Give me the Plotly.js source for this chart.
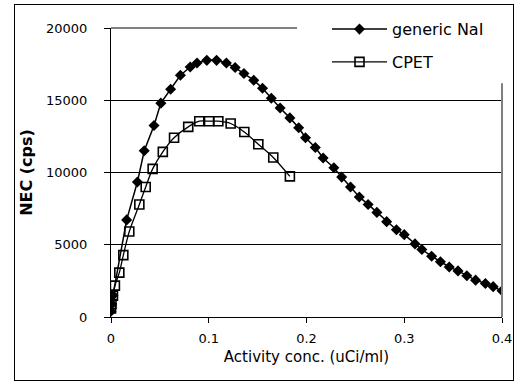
<!DOCTYPE html>
<html>
<head>
<meta charset="utf-8">
<script src="https://cdn.plot.ly/plotly-3.0.1.min.js"></script>
<style>
html,body{margin:0;padding:0;background:#fff;}
#wrap{position:relative;width:519px;height:384px;}
#chart{width:519px;height:384px;}
#frame{position:absolute;left:14px;top:4px;width:498px;height:375px;border:1px solid #000;pointer-events:none;}
</style>
</head>
<body>
<div id="wrap">
<div id="chart"></div>
<div id="frame"></div>
</div>
<script>
// generic NaI
var naiX = [0.000, 0.0008, 0.002, 0.016, 0.027, 0.034, 0.044, 0.051, 0.061, 0.071, 0.081, 0.088, 0.098, 0.108, 0.118, 0.127, 0.136, 0.146, 0.155, 0.164, 0.173, 0.183, 0.192, 0.199, 0.209, 0.217, 0.228, 0.236, 0.245, 0.254, 0.263, 0.272, 0.282, 0.292, 0.300, 0.311, 0.318, 0.328, 0.337, 0.346, 0.355, 0.364, 0.373, 0.383, 0.391, 0.400];
var naiY = [400, 900, 1500, 6720, 9340, 11500, 13250, 14800, 15760, 16730, 17300, 17580, 17760, 17760, 17580, 17260, 16850, 16390, 15830, 15140, 14460, 13780, 13100, 12410, 11730, 11000, 10330, 9680, 9000, 8310, 7790, 7240, 6600, 6040, 5700, 5060, 4670, 4210, 3830, 3460, 3190, 2850, 2550, 2320, 2100, 1820];
// CPET
var cpetX = [0.000, 0.0005, 0.002, 0.004, 0.0085, 0.0126, 0.0187, 0.029, 0.0355, 0.0426, 0.053, 0.0645, 0.079, 0.0903, 0.1003, 0.1098, 0.1224, 0.1364, 0.1507, 0.166, 0.183];
var cpetY = [600, 900, 1480, 2170, 3070, 4280, 5920, 7790, 9000, 10250, 11430, 12410, 13160, 13550, 13550, 13550, 13390, 12800, 11950, 11040, 9730];

var xTicks = [0, 0.1, 0.2, 0.3, 0.4];
var xTickText = ['0', '0.1', '0.2', '0.3', '0.4'];
var yTicks = [0, 5000, 10000, 15000, 20000];
var yTickText = ['0', '5000', '10000', '15000', '20000'];

var FONT = 'DejaVu Sans, Arial, sans-serif';

var traces = [
  {
    x: naiX, y: naiY, name: 'generic NaI', type: 'scatter', mode: 'lines+markers',
    line: {color: '#000', width: 1.5},
    marker: {symbol: 'diamond', size: 8.5, color: '#000', line: {width: 0}},
    legendgroup: 'a'
  },
  {
    x: cpetX, y: cpetY, name: 'CPET', type: 'scatter', mode: 'lines+markers',
    line: {color: '#000', width: 1.3, shape: 'spline', smoothing: 0.8},
    marker: {symbol: 'square-open', size: 9, color: '#000', line: {width: 1.6, color: '#000'}},
    legendgroup: 'b'
  }
];

var L = 111, R = 17, T = 24, B = 67;
var pw = 519 - L - R, ph = 384 - T - B;

var layout = {
  width: 519, height: 384,
  margin: {l: L, r: R, t: T, b: B, pad: 0},
  paper_bgcolor: 'rgba(0,0,0,0)', plot_bgcolor: '#fff',
  font: {family: FONT, size: 13, color: '#000'},
  showlegend: true,
  legend: {
    x: (327 - L) / pw, y: 1 + (T - 8) / ph, xanchor: 'left', yanchor: 'top',
    bgcolor: 'rgba(0,0,0,0)', borderwidth: 0,
    font: {family: FONT, size: 16, color: '#000'},
    itemwidth: 55, tracegroupgap: 9, traceorder: 'grouped'
  },
  xaxis: {
    range: [0, 0.4], tickvals: xTicks, ticktext: xTickText,
    ticks: 'outside', ticklen: 5, tickcolor: '#000', tickwidth: 1,
    showline: true, linecolor: '#000', linewidth: 1,
    showgrid: false, zeroline: false,
    ticklabelstandoff: 4,
    tickfont: {family: FONT, size: 13, color: '#000'},
    title: {text: 'Activity conc. (uCi/ml)', font: {family: FONT, size: 15, color: '#000'}, standoff: 6}
  },
  yaxis: {
    range: [0, 20000], tickvals: yTicks, ticktext: yTickText,
    ticks: 'outside', ticklen: 6, tickcolor: '#000', tickwidth: 1,
    showline: true, linecolor: '#000', linewidth: 1,
    showgrid: true, gridcolor: '#000', gridwidth: 1, zeroline: false,
    ticklabelstandoff: 14,
    tickfont: {family: FONT, size: 13, color: '#000'},
    title: {text: 'NEC (cps)', font: {family: FONT, size: 16, color: '#000', weight: 'bold'}, standoff: 9}
  },
  shapes: [
    {type: 'rect', xref: 'paper', yref: 'paper', x0: (297 - L) / pw, x1: 1.01, y0: 1 - (80 - T) / ph, y1: 1.01,
     line: {width: 0}, fillcolor: '#fff', layer: 'above'},
    {type: 'line', xref: 'paper', yref: 'paper', x0: 0, x1: (297 - L) / pw, y0: 1, y1: 1, line: {color: '#808080', width: 2}, layer: 'above'},
    {type: 'line', xref: 'paper', yref: 'paper', x0: 1, x1: 1, y0: 0, y1: 1 - (80 - T) / ph, line: {color: '#808080', width: 2}, layer: 'above'}
  ]
};

Plotly.newPlot('chart', traces, layout, {displayModeBar: false, staticPlot: true});
</script>
</body>
</html>
